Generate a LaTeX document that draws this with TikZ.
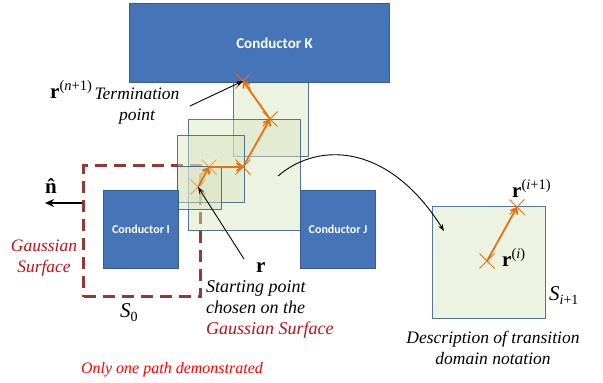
\documentclass[tikz,border=0pt]{standalone}
\usepackage{fontspec}
\setmainfont{Liberation Serif}
\newfontfamily\calib{Carlito}
\usetikzlibrary{arrows.meta,shapes.misc}
\definecolor{condblue}{RGB}{70,116,185}
\definecolor{condedge}{RGB}{56,93,138}
\definecolor{sqfill}{RGB}{215,228,189}
\definecolor{sqedge}{RGB}{56,93,138}
\definecolor{orng}{RGB}{232,112,16}
\definecolor{gred}{RGB}{149,55,53}
\definecolor{tred}{RGB}{192,16,24}
\newcommand\supr[1]{\raisebox{8pt}{\fontsize{14.5}{14.5}\selectfont #1}}
\newcommand\subr[1]{\raisebox{-4pt}{\fontsize{14}{14}\selectfont #1}}
\begin{document}
\begin{tikzpicture}[x=1pt,y=-1pt,
  cond/.style={draw=condedge, line width=1pt, fill=condblue, inner sep=0pt, anchor=north west},
  clabel/.style={text=white, font=\calib\bfseries, inner sep=0pt},
  sq/.style={draw=sqedge, line width=1.2pt, fill=sqfill, fill opacity=0.45, draw opacity=0.85, inner sep=0pt, anchor=north west},
  xmark/.style={cross out, draw=orng, line width=1pt, minimum size=14pt, inner sep=0pt},
  opath/.style={draw=orng, line width=1.8pt, -{Straight Barb[length=5pt,width=8pt]}},
  blk/.style={draw=black, line width=0.9pt, -{Stealth[length=7pt,width=5pt]}},
  itxt/.style={font=\fontsize{17.5}{21}\selectfont\itshape, inner sep=0pt},
  mtxt/.style={font=\fontsize{21}{21}\selectfont, inner sep=0pt, anchor=base west}
]
\useasboundingbox (0,0) rectangle (603,383);

% Gaussian surface
\node[draw=gred, line width=3pt, dash pattern=on 12pt off 7pt, inner sep=0pt, anchor=north west,
  minimum width=117pt, minimum height=131pt] (gs) at (82,164) {};

% transition squares
\node[sq, minimum width=75pt, minimum height=96pt] (sqA) at (233,60) {};
\node[sq, minimum width=112pt, minimum height=111pt] (sqB) at (188,119) {};
\node[sq, minimum width=67pt, minimum height=67pt] (sqC) at (177,135) {};
\node[sq, minimum width=44pt, minimum height=43pt] (sqD) at (177,166) {};

% conductors
\node[cond, minimum width=260pt, minimum height=79pt] (K) at (129,3) {};
\node[clabel, font=\calib\bfseries\fontsize{15}{15}\selectfont] (Klab) at (274.5,43) {Conductor K};
\node[cond, minimum width=75pt, minimum height=78pt] (I) at (103,190) {};
\node[clabel, font=\calib\bfseries\fontsize{12}{12}\selectfont] (Ilab) at (I.center) {Conductor I};
\node[cond, minimum width=75pt, minimum height=78pt] (J) at (300,190) {};
\node[clabel, font=\calib\bfseries\fontsize{12}{12}\selectfont] (Jlab) at (J.center) {Conductor J};

% walk points
\node[xmark, draw opacity=0.6] (p0) at (198,187) {};
\node[xmark, draw opacity=0.6] (p1) at (209,167) {};
\node[xmark] (p2) at (243,167) {};
\node[xmark] (p3) at (270,119) {};
\node[xmark] (p4) at (243,81) {};
\draw[opath] (p0.center) -- (p1.center);
\draw[opath] (p1.center) -- (p2.center);
\draw[opath] (p2.center) -- (p3.center);
\draw[opath] (p3.center) -- (p4.center);

% description square
\node[sq, minimum width=113pt, minimum height=112pt] (desc) at (432,206) {};
\node[xmark] (ri) at (487,261) {};
\node[xmark] (ri1) at (517,207) {};
\draw[opath] (ri.center) -- (ri1.center);

% labels
\node[mtxt] (lrn) at (50,98) {\textbf{r}\supr{(\textit{n}+1)}};
\node[itxt, align=center] (term) at (137,106) {Termination\\point};
\node[mtxt] (lr) at (256,272) {\textbf{r}};
\node[itxt, align=left, anchor=north west, font=\fontsize{18}{21}\selectfont\itshape] (start) at (206,280) {Starting point\\chosen on the\\\textcolor{tred}{Gaussian Surface}};
\node[itxt, align=center, text=tred] (gauss) at (44,258) {Gaussian\\Surface};
\node[mtxt] (lS0) at (120,317) {\textit{S}\subr{0}};
\node[mtxt] (ln) at (45,193) {\textbf{\^{n}}};
\node[mtxt] (lri) at (502,266) {\textbf{r}\supr{(\textit{i})}};
\node[mtxt] (lri1) at (512,197) {\textbf{r}\supr{(\textit{i}+1)}};
\node[mtxt] (lSi) at (549,300) {\textit{S}\subr{\textit{i}+1}};
\node[itxt, align=center] (dlab) at (493,347.5) {Description of transition\\domain notation};
\node[itxt, text=red, font=\fontsize{16}{21}\selectfont\itshape] (only) at (172,370) {Only one path demonstrated};

% black arrows
\coordinate (tt) at (190,106);
\coordinate (rt) at (244,259);
\coordinate (cs) at (278,176);
\coordinate (ce) at (444,231);
\coordinate (nh0) at (82,203);
\coordinate (nh1) at (45,203);
\draw[blk] (tt) -- (p4.center);
\draw[blk] (rt) -- (p0.center);
\draw[blk] (cs) .. controls (320,140) and (390,145) .. (ce);
\draw[draw=black, line width=2pt, -{Stealth[length=9pt,width=8pt]}] (nh0) -- (nh1);
\end{tikzpicture}
\end{document}
